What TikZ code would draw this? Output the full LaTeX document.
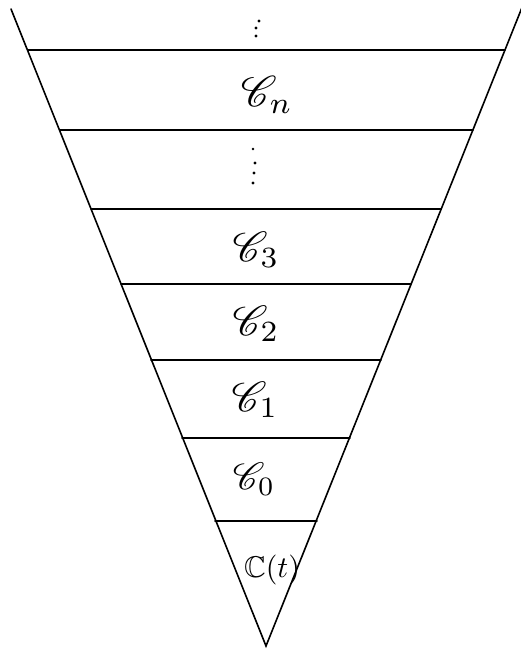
\documentclass[tikz,border=0pt]{standalone}
\usepackage{amssymb}
\usepackage{mathrsfs}
\begin{document}
\begin{tikzpicture}[x=1pt,y=-1pt,
  edge/.style={line width=1.6pt,line cap=round},
  lbl/.style={inner sep=0pt},
  dot/.style={circle,fill=black,inner sep=0pt,minimum size=3.2pt}]
\useasboundingbox (0,0) rectangle (521,651);
\coordinate (tl) at (11,9);
\coordinate (tr) at (523,5);
\coordinate (apex) at (266,646);
\draw[edge] (tl) -- (apex) -- (tr);
\foreach \y/\l/\r in {50/28/505,130/60/473,209/91/441,284/121/411,360/151/381,438/182/350,521/215/317}{
  \draw[edge] (\l,\y) -- (\r,\y);
}
\node[dot] (d1a) at (259,21) {};
\node[dot] (d1b) at (256,28) {};
\node[dot] (d1c) at (256,36) {};
\node[lbl] (cn) at (267,95) {\scalebox{4.3}{$\mathscr{C}_n$}};
\node[dot,minimum size=2.6pt] (d2a) at (253,149) {};
\node[dot] (d2b) at (255,163) {};
\node[dot] (d2c) at (254,173) {};
\node[dot] (d2d) at (253,183) {};
\node[lbl] (c3) at (256,250) {\scalebox{4.2}{$\mathscr{C}_3$}};
\node[lbl] (c2) at (256,324) {\scalebox{4.2}{$\mathscr{C}_2$}};
\node[lbl] (c1) at (255,400) {\scalebox{4.2}{$\mathscr{C}_1$}};
\node[lbl] (c0) at (254,479) {\scalebox{3.8}{$\mathscr{C}_0$}};
\node[lbl] (ct) at (272,570) {\scalebox{3.0}{$\mathbb{C}(t)$}};
\end{tikzpicture}
\end{document}
